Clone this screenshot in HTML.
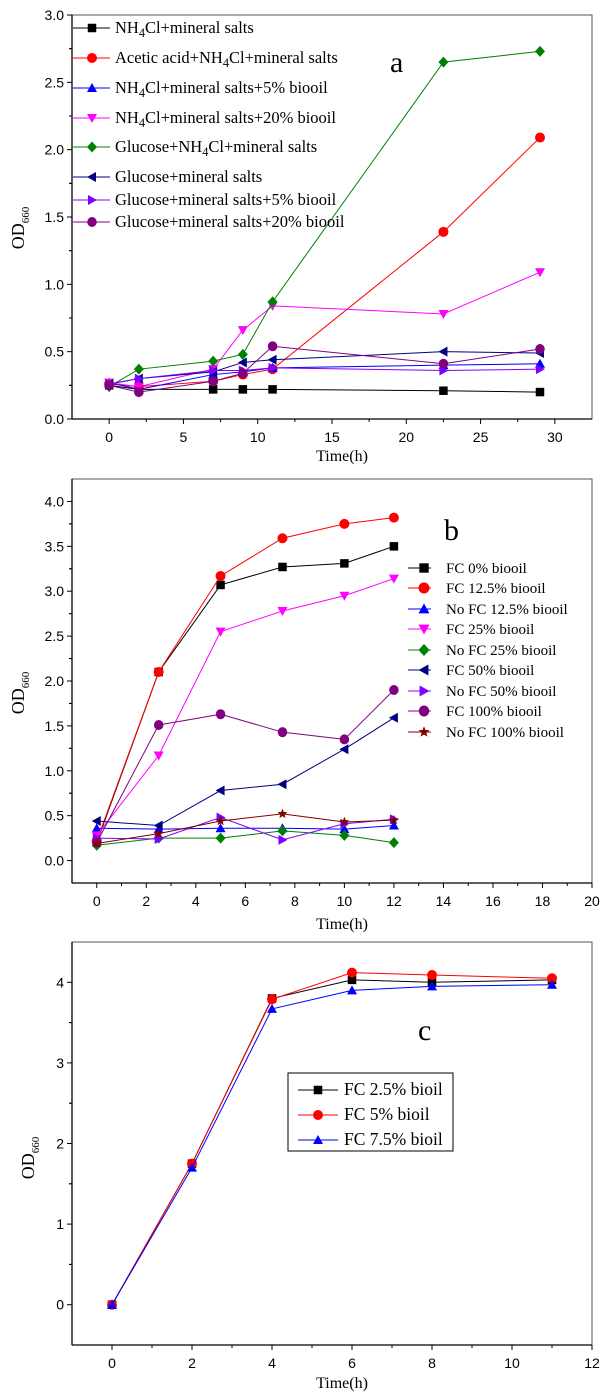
<!DOCTYPE html>
<html><head><meta charset="utf-8"><style>
html,body{margin:0;padding:0;background:#fff}
svg{display:block}
text{font-family:"Liberation Sans",Arial,sans-serif}
.serif{font-family:"Liberation Serif","Times New Roman",serif}
</style></head><body>
<svg id="fig" width="600" height="1395" viewBox="0 0 600 1395" xmlns="http://www.w3.org/2000/svg"></svg>
<script>
// ---- Panel a data ----
const aTimes = [0, 2, 7, 9, 11, 22.5, 29];
const aNames = ["NH4Cl+mineral salts","Acetic acid+NH4Cl+mineral salts","NH4Cl+mineral salts+5% biooil","NH4Cl+mineral salts+20% biooil","Glucose+NH4Cl+mineral salts","Glucose+mineral salts","Glucose+mineral salts+5% biooil","Glucose+mineral salts+20% biooil"];
const aS1 = [0.25,0.22,0.22,0.22,0.22,0.21,0.20];
const aS2 = [0.26,0.24,0.28,0.33,0.37,1.39,2.09];
const aS3 = [0.27,0.22,0.33,0.35,0.38,0.40,0.41];
const aS4 = [0.27,0.24,0.37,0.66,0.84,0.78,1.09];
const aS5 = [0.24,0.37,0.43,0.48,0.87,2.65,2.73];
const aS6 = [0.26,0.30,0.35,0.42,0.44,0.50,0.49];
const aS7 = [0.26,0.30,0.36,0.36,0.38,0.36,0.37];
const aS8 = [0.25,0.20,0.28,0.34,0.54,0.41,0.52];
const aXTicks = [0,5,10,15,20,25,30];
const aYTicks = ["0.0","0.5","1.0","1.5","2.0","2.5","3.0"];
// ---- Panel b data ----
const bTimes = [0, 2.5, 5, 7.5, 10, 12];
const bNames = ["FC 0% biooil","FC 12.5% biooil","No FC 12.5% biooil","FC 25% biooil","No FC 25% biooil","FC 50% biooil","No FC 50% biooil","FC 100% biooil","No FC 100% biooil"];
const bS1 = [0.20,2.10,3.07,3.27,3.31,3.50];
const bS2 = [0.22,2.10,3.17,3.59,3.75,3.82];
const bS3 = [0.36,0.35,0.36,0.36,0.35,0.39];
const bS4 = [0.28,1.17,2.55,2.78,2.95,3.14];
const bS5 = [0.17,0.25,0.25,0.33,0.28,0.20];
const bS6 = [0.44,0.39,0.78,0.85,1.24,1.59];
const bS7 = [0.25,0.24,0.48,0.23,0.41,0.46];
const bS8 = [0.20,1.51,1.63,1.43,1.35,1.90];
const bS9 = [0.19,0.30,0.44,0.52,0.43,0.45];
const bXTicks = [0,2,4,6,8,10,12,14,16,18,20];
const bYTicks = ["0.0","0.5","1.0","1.5","2.0","2.5","3.0","3.5","4.0"];
// ---- Panel c data ----
const cTimes = [0, 2, 4, 6, 8, 11];
const cNames = ["FC 2.5% bioil","FC 5% bioil","FC 7.5% bioil"];
const cS1 = [0,1.75,3.80,4.03,4.00,4.03];
const cS2 = [0,1.75,3.79,4.12,4.09,4.05];
const cS3 = [0,1.70,3.67,3.90,3.95,3.97];
const cXTicks = [0,2,4,6,8,10,12];
const cYTicks = ["0","1","2","3","4"];

const NS="http://www.w3.org/2000/svg";
const svg=document.getElementById('fig');
function mk(tag,attrs,parent){const e=document.createElementNS(NS,tag);for(const k in attrs)e.setAttribute(k,attrs[k]);(parent||svg).appendChild(e);return e;}

const STY={
 sq:{c:"#000000",m:"square"}, ci:{c:"#ff0000",m:"circle"}, up:{c:"#0000ff",m:"up"},
 dn:{c:"#ff00ff",m:"down"}, di:{c:"#008000",m:"diamond"}, lt:{c:"#000080",m:"left"},
 rt:{c:"#8000ff",m:"right"}, hx:{c:"#800080",m:"hex"}, st:{c:"#800000",m:"star"}
};
function marker(g,type,x,y,col,r){
 let e;
 if(type==="square") e=mk('rect',{x:x-r*0.85,y:y-r*0.85,width:r*1.7,height:r*1.7,fill:col},g);
 else if(type==="circle") e=mk('circle',{cx:x,cy:y,r:r,fill:col},g);
 else if(type==="hex") e=mk('ellipse',{cx:x,cy:y,rx:r*0.95,ry:r,fill:col},g);
 else{
  let p;
  if(type==="up") p=[[x,y-r],[x+r,y+r*0.8],[x-r,y+r*0.8]];
  else if(type==="down") p=[[x,y+r],[x+r,y-r*0.8],[x-r,y-r*0.8]];
  else if(type==="left") p=[[x-r,y],[x+r*0.8,y-r],[x+r*0.8,y+r]];
  else if(type==="right") p=[[x+r,y],[x-r*0.8,y-r],[x-r*0.8,y+r]];
  else if(type==="diamond") p=[[x,y-r*1.1],[x+r,y],[x,y+r*1.1],[x-r,y]];
  else { p=[]; for(let i=0;i<10;i++){const a=-Math.PI/2+i*Math.PI/5;const rr=i%2?r*0.45:r*1.05;p.push([x+rr*Math.cos(a),y+rr*Math.sin(a)]);} }
  e=mk('polygon',{points:p.map(q=>q.join(',')).join(' '),fill:col},g);
 }
 return e;
}

function panel(o){
 const g=mk('g',{});
 
 
 const X=v=>o.L+(v-o.xmin)/(o.xmax-o.xmin)*(o.R-o.L);
 const Y=v=>o.B-(v-o.ymin)/(o.ymax-o.ymin)*(o.B-o.T);
 const fr=mk('rect',{x:o.L,y:o.T,width:o.R-o.L,height:o.B-o.T,fill:'none',stroke:'#555',"stroke-width":1},g);
 
 
 mk('line',{x1:o.L,y1:o.T,x2:o.L,y2:o.B,stroke:'#000',"stroke-width":1.3},g);
 mk('line',{x1:o.L,y1:o.B,x2:o.R,y2:o.B,stroke:'#000',"stroke-width":1.3},g);
 const xt=mk('g',{},g);
 
 
 for(let i=0;i<o.xTicks.length;i++){
  const v=o.xTicks[i],x=X(v);
  mk('line',{x1:x,y1:o.B,x2:x,y2:o.B+5,stroke:'#000'},xt);
  const t=mk('text',{x:x,y:o.B+23,"text-anchor":"middle","font-size":14},xt);t.textContent=v;
  
  
  if(i<o.xTicks.length-1){const m=X((v+o.xTicks[i+1])/2);mk('line',{x1:m,y1:o.B,x2:m,y2:o.B+3,stroke:'#000'},xt);}
  if(i===0){const m=X(v-(o.xTicks[1]-v)/2);if(m>o.L)mk('line',{x1:m,y1:o.B,x2:m,y2:o.B+3,stroke:'#000'},xt);}
 }
 const xl=mk('text',{x:(o.L+o.R)/2+10,y:o.B+o.xlabOff,"text-anchor":"middle","font-size":16,class:"serif"},g);xl.textContent="Time(h)";
 
 
 const yt=mk('g',{},g);
 
 
 const step=parseFloat(o.yTicks[1])-parseFloat(o.yTicks[0]);
 for(let i=0;i<o.yTicks.length;i++){
  const v=parseFloat(o.yTicks[i]),y=Y(v);
  mk('line',{x1:o.L-5,y1:y,x2:o.L,y2:y,stroke:'#000'},yt);
  const t=mk('text',{x:o.L-8,y:y+5,"text-anchor":"end","font-size":14},yt);t.textContent=o.yTicks[i];
  
  
  for(const m of [v+step/2,v-step/2]){ if(m>o.ymin&&m<o.ymax){const ym=Y(m);mk('line',{x1:o.L-3,y1:ym,x2:o.L,y2:ym,stroke:'#000'},yt);} }
 }
 const yl=mk('text',{transform:`translate(${o.ylx},${o.yly}) rotate(-90)`,"text-anchor":"middle","font-size":18,class:"serif"},g);
 yl.innerHTML='OD<tspan font-size="11" dy="5">660</tspan>';
 
 
 o.series.forEach((s,k)=>{
  const sg=mk('g',{},g);
  
  
  const st=STY[s.k];
  mk('polyline',{points:s.v.map((v,i)=>X(o.times[i])+','+Y(v)).join(' '),fill:'none',stroke:st.c,"stroke-width":1},sg);
  s.v.forEach((v,i)=>{const m=marker(sg,st.m,X(o.times[i]),Y(v),st.c,o.mr);
   
   });
 });
 const lg=mk('g',{},g);
 
 
 if(o.legBox){mk('rect',{x:o.legBox[0],y:o.legBox[1],width:o.legBox[2],height:o.legBox[3],fill:'#fff',stroke:'#000'},lg);}
 o.series.forEach((s,k)=>{
  const e=mk('g',{},lg);
  
  
  const st=STY[s.k],y=o.legY[k];
  mk('line',{x1:o.leg.x1,y1:y,x2:o.leg.x2,y2:y,stroke:st.c},e);
  marker(e,st.m,o.leg.mx,y,st.c,o.leg.mr||o.mr);
  const t=mk('text',{x:o.leg.tx,y:y+5,"font-size":o.leg.fs,class:"serif"},e);
  t.innerHTML=o.names[k].replace('NH4Cl','NH<tspan dy="4" font-size="'+(o.leg.fs*0.75)+'">4</tspan><tspan dy="-4">Cl</tspan>');
 });
 const lab=mk('text',{x:o.lab[0],y:o.lab[1],"font-size":30,class:"serif"},g);lab.textContent=o.lab[2];
 
 
}

panel({name:'panel-a',L:72,R:592,T:15,B:419,xmin:-2.5,xmax:32.5,ymin:0,ymax:3,times:aTimes,xTicks:aXTicks,yTicks:aYTicks,xlabOff:42,ylx:24,yly:228,mr:5,
 series:[{k:'sq',v:aS1},{k:'ci',v:aS2},{k:'up',v:aS3},{k:'dn',v:aS4},{k:'di',v:aS5},{k:'lt',v:aS6},{k:'rt',v:aS7},{k:'hx',v:aS8}],
 names:aNames,leg:{x1:73,x2:110,mx:92,tx:115,fs:16.5},legY:[28,58,88,118,147,177,200,222],lab:[390,72,'a']});
panel({name:'panel-b',L:72,R:592,T:479,B:883,xmin:-1,xmax:20,ymin:-0.25,ymax:4.25,times:bTimes,xTicks:bXTicks,yTicks:bYTicks,xlabOff:46,ylx:24,yly:693,mr:5,
 series:[{k:'sq',v:bS1},{k:'ci',v:bS2},{k:'up',v:bS3},{k:'dn',v:bS4},{k:'di',v:bS5},{k:'lt',v:bS6},{k:'rt',v:bS7},{k:'hx',v:bS8},{k:'st',v:bS9}],
 names:bNames,leg:{x1:408,x2:431,mx:424,tx:446,fs:15,mr:5.5},legY:[568,588,609,629,650,670,691,711,732],lab:[444,540,'b']});
panel({name:'panel-c',L:72,R:592,T:942,B:1345,xmin:-1,xmax:12,ymin:-0.5,ymax:4.5,times:cTimes,xTicks:cXTicks,yTicks:cYTicks,xlabOff:43,ylx:34,yly:1158,mr:5,
 series:[{k:'sq',v:cS1},{k:'ci',v:cS2},{k:'up',v:cS3}],
 names:cNames,leg:{x1:298,x2:338,mx:318,tx:344,fs:17.5},legY:[1090,1115,1140],legBox:[288,1073,165,78],lab:[418,1040,'c']});
</script>
</body></html>
